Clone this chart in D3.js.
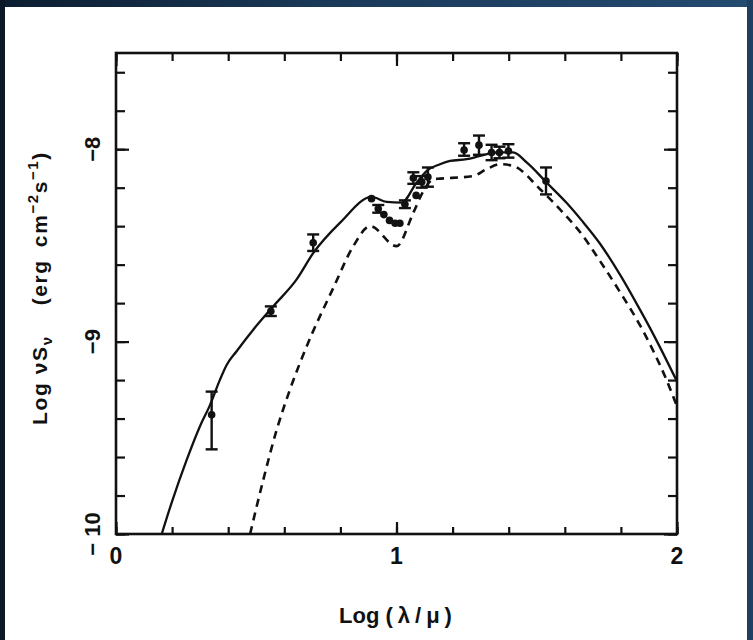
<!DOCTYPE html>
<html>
<head>
<meta charset="utf-8">
<script src="https://cdn.jsdelivr.net/npm/d3@7/dist/d3.min.js"></script>
<style>
  html, body { margin: 0; padding: 0; background: #ffffff; }
  svg { display: block; }
  text { font-family: "Liberation Sans", Arial, Helvetica, sans-serif; fill: #111; }
</style>
</head>
<body>
<svg id="chart" width="753" height="640"></svg>
<script>
// Observed photometry: log wavelength (micron) and log nu*S_nu with error extents
const obsX   = [0.341, 0.552, 0.703, 0.911, 0.935, 0.955, 0.975, 0.995, 1.012, 1.030, 1.070, 1.060, 1.090, 1.112, 1.241, 1.294, 1.339, 1.367, 1.399, 1.533];
const obsY   = [-9.38, -8.842, -8.486, -8.257, -8.31, -8.34, -8.37, -8.385, -8.385, -8.286, -8.24, -8.15, -8.17, -8.145, -8.004, -7.979, -8.017, -8.017, -8.009, -8.165];
const obsErrHi = [0.12, 0.025, 0.043, 0, 0.02, 0, 0, 0, 0, 0.02, 0, 0.03, 0.03, 0.05, 0.035, 0.05, 0.04, 0.03, 0.035, 0.07];
const obsErrLo = [0.18, 0.025, 0.043, 0, 0.02, 0, 0, 0, 0, 0.02, 0, 0.03, 0.03, 0.05, 0.03, 0.05, 0.04, 0.03, 0.035, 0.07];

// Model SED (solid)
const modelX = [0.163, 0.20, 0.252, 0.299, 0.335, 0.37, 0.395, 0.43, 0.49, 0.561, 0.644, 0.703, 0.80, 0.911, 0.965, 1.018, 1.072, 1.11, 1.155, 1.191, 1.25, 1.298, 1.357, 1.416, 1.464, 1.535, 1.607, 1.66, 1.725, 1.80, 1.855, 1.904, 1.95, 2.0];
const modelY = [-10, -9.83, -9.615, -9.441, -9.33, -9.2, -9.12, -9.05, -8.937, -8.816, -8.677, -8.54, -8.38, -8.248, -8.274, -8.278, -8.173, -8.11, -8.078, -8.061, -8.052, -8.035, -8.017, -8.017, -8.069, -8.173, -8.28, -8.37, -8.49, -8.66, -8.80, -8.93, -9.06, -9.207];

// Alternative model SED (dashed)
const altX = [0.478, 0.525, 0.573, 0.62, 0.68, 0.775, 0.846, 0.906, 1.0, 1.06, 1.096, 1.131, 1.155, 1.274, 1.321, 1.369, 1.416, 1.512, 1.60, 1.654, 1.725, 1.80, 1.87, 1.916, 1.96, 2.0];
const altY = [-10, -9.719, -9.458, -9.25, -9.024, -8.72, -8.504, -8.40, -8.504, -8.33, -8.217, -8.156, -8.153, -8.139, -8.104, -8.078, -8.087, -8.208, -8.34, -8.43, -8.58, -8.75, -8.92, -9.05, -9.19, -9.337];

// Axis ticks
const xMinorTicks = [0, 0.2, 0.4, 0.6, 0.8, 1, 1.2, 1.4, 1.6, 1.8, 2];
const xMajorTicks = [0, 1, 2];
const xTickLabels = ["0", "1", "2"];
const yMinorTicks = [-10, -9.8, -9.6, -9.4, -9.2, -9, -8.8, -8.6, -8.4, -8.2, -8, -7.8, -7.6];
const yMajorTicks = [-10, -9, -8];
const yTickLabels = ["\u2212 10", "\u22129", "\u22128"];

const svg = d3.select("#chart");
const W = 753, H = 640;

// Dark slide border
const defs = svg.append("defs");
const grad = defs.append("linearGradient").attr("id", "bandGrad").attr("x1", 0).attr("x2", 1);
grad.append("stop").attr("offset", "0%").attr("stop-color", "#0c1d30");
grad.append("stop").attr("offset", "45%").attr("stop-color", "#1b3a5a");
grad.append("stop").attr("offset", "100%").attr("stop-color", "#234a70");
svg.append("rect").attr("x", 0).attr("y", 0).attr("width", W).attr("height", H).attr("fill", "#ffffff");
svg.append("rect").attr("x", 0).attr("y", 0).attr("width", W).attr("height", 7).attr("fill", "url(#bandGrad)");
svg.append("rect").attr("x", 0).attr("y", 0).attr("width", 5).attr("height", H).attr("fill", "#0a1828");
svg.append("rect").attr("x", W - 6).attr("y", 0).attr("width", 6).attr("height", H).attr("fill", "#1d3f60");

const x = d3.scaleLinear().domain([0, 2]).range([116, 677]);
const y = d3.scaleLinear().domain([-10, -7.5]).range([534, 53]);

const ink = "#111";

// Ticks (inward) on all four sides
function styleAxis(g) {
  g.select(".domain").remove();
  g.selectAll("line").attr("stroke", ink).attr("stroke-width", 2.2);
  g.selectAll("text").remove();
}
svg.append("g").attr("transform", `translate(0,${y(-10)})`)
  .call(d3.axisBottom(x).tickValues(xMinorTicks).tickSize(-7)).call(styleAxis);
svg.append("g").attr("transform", `translate(0,${y(-10)})`)
  .call(d3.axisBottom(x).tickValues(xMajorTicks).tickSize(-12)).call(styleAxis);
svg.append("g").attr("transform", `translate(0,${y(-7.5)})`)
  .call(d3.axisTop(x).tickValues(xMinorTicks).tickSize(-8)).call(styleAxis);
svg.append("g").attr("transform", `translate(0,${y(-7.5)})`)
  .call(d3.axisTop(x).tickValues(xMajorTicks).tickSize(-13)).call(styleAxis);
svg.append("g").attr("transform", `translate(${x(0)},0)`)
  .call(d3.axisLeft(y).tickValues(yMinorTicks).tickSize(-9)).call(styleAxis);
svg.append("g").attr("transform", `translate(${x(0)},0)`)
  .call(d3.axisLeft(y).tickValues(yMajorTicks).tickSize(-13)).call(styleAxis);
svg.append("g").attr("transform", `translate(${x(2)},0)`)
  .call(d3.axisRight(y).tickValues(yMinorTicks).tickSize(-9)).call(styleAxis);
svg.append("g").attr("transform", `translate(${x(2)},0)`)
  .call(d3.axisRight(y).tickValues(yMajorTicks).tickSize(-13)).call(styleAxis);

// Frame
svg.append("rect")
  .attr("x", x(0)).attr("y", y(-7.5))
  .attr("width", x(2) - x(0)).attr("height", y(-10) - y(-7.5))
  .attr("fill", "none").attr("stroke", ink).attr("stroke-width", 2.6);

// Tick labels
svg.append("g").selectAll("text").data(xMajorTicks).join("text")
  .attr("x", d => x(d)).attr("y", y(-10) + 30)
  .attr("text-anchor", "middle").attr("font-size", 23).attr("font-weight", "bold")
  .text((d, i) => xTickLabels[i]);

svg.append("g").selectAll("text").data(yMajorTicks).join("text")
  .attr("transform", d => `translate(${x(0) - 16},${y(d)}) rotate(-90)`)
  .attr("text-anchor", "middle").attr("font-size", 22).attr("font-weight", "bold")
  .text((d, i) => yTickLabels[i]);

// Axis titles
const xt = svg.append("text")
  .attr("x", 398).attr("y", 623)
  .attr("text-anchor", "middle").attr("font-size", 22).attr("font-weight", "bold");
xt.append("tspan").text("Log ");
xt.append("tspan").attr("letter-spacing", 5).text("(\u03bb/\u03bc)");

const yt = svg.append("text")
  .attr("transform", "translate(47,288) rotate(-90)")
  .attr("text-anchor", "middle").attr("font-size", 21).attr("font-weight", "bold")
  .attr("letter-spacing", 1.6);
yt.append("tspan").text("Log \u03bdS");
yt.append("tspan").attr("font-size", 15).attr("dy", 5).text("\u03bd");
yt.append("tspan").attr("dy", -5).text("\u2003 (erg\u2002cm");
yt.append("tspan").attr("font-size", 15).attr("dy", -9).text("\u22122");
yt.append("tspan").attr("dy", 9).text("s");
yt.append("tspan").attr("font-size", 15).attr("dy", -9).text("\u22121");
yt.append("tspan").attr("dy", 9).text(")");

// Model curves
const line = d3.line().x(d => x(d[0])).y(d => y(d[1])).curve(d3.curveMonotoneX);
const clip = defs.append("clipPath").attr("id", "plotClip");
clip.append("rect").attr("x", x(0)).attr("y", y(-7.5)).attr("width", x(2) - x(0)).attr("height", y(-10) - y(-7.5));

svg.append("path").datum(d3.zip(altX, altY))
  .attr("d", line).attr("fill", "none").attr("stroke", ink)
  .attr("stroke-width", 2.6).attr("stroke-dasharray", "8,6")
  .attr("clip-path", "url(#plotClip)");
svg.append("path").datum(d3.zip(modelX, modelY))
  .attr("d", line).attr("fill", "none").attr("stroke", ink)
  .attr("stroke-width", 2.3)
  .attr("clip-path", "url(#plotClip)");

// Observations with error bars
const obs = obsX.map((v, i) => ({ x: v, y: obsY[i], hi: obsErrHi[i], lo: obsErrLo[i] }));
const eb = svg.append("g").attr("stroke", ink).attr("stroke-width", 2.4);
const withErr = obs.filter(d => d.hi > 0 || d.lo > 0);
eb.selectAll("line.v").data(withErr).join("line").attr("class", "v")
  .attr("x1", d => x(d.x)).attr("x2", d => x(d.x))
  .attr("y1", d => y(d.y + d.hi)).attr("y2", d => y(d.y - d.lo));
eb.selectAll("line.t").data(withErr).join("line").attr("class", "t")
  .attr("x1", d => x(d.x) - 6).attr("x2", d => x(d.x) + 6)
  .attr("y1", d => y(d.y + d.hi)).attr("y2", d => y(d.y + d.hi));
eb.selectAll("line.b").data(withErr).join("line").attr("class", "b")
  .attr("x1", d => x(d.x) - 6).attr("x2", d => x(d.x) + 6)
  .attr("y1", d => y(d.y - d.lo)).attr("y2", d => y(d.y - d.lo));
svg.append("g").selectAll("circle").data(obs).join("circle")
  .attr("cx", d => x(d.x)).attr("cy", d => y(d.y)).attr("r", 3.8).attr("fill", ink);
</script>
</body>
</html>
